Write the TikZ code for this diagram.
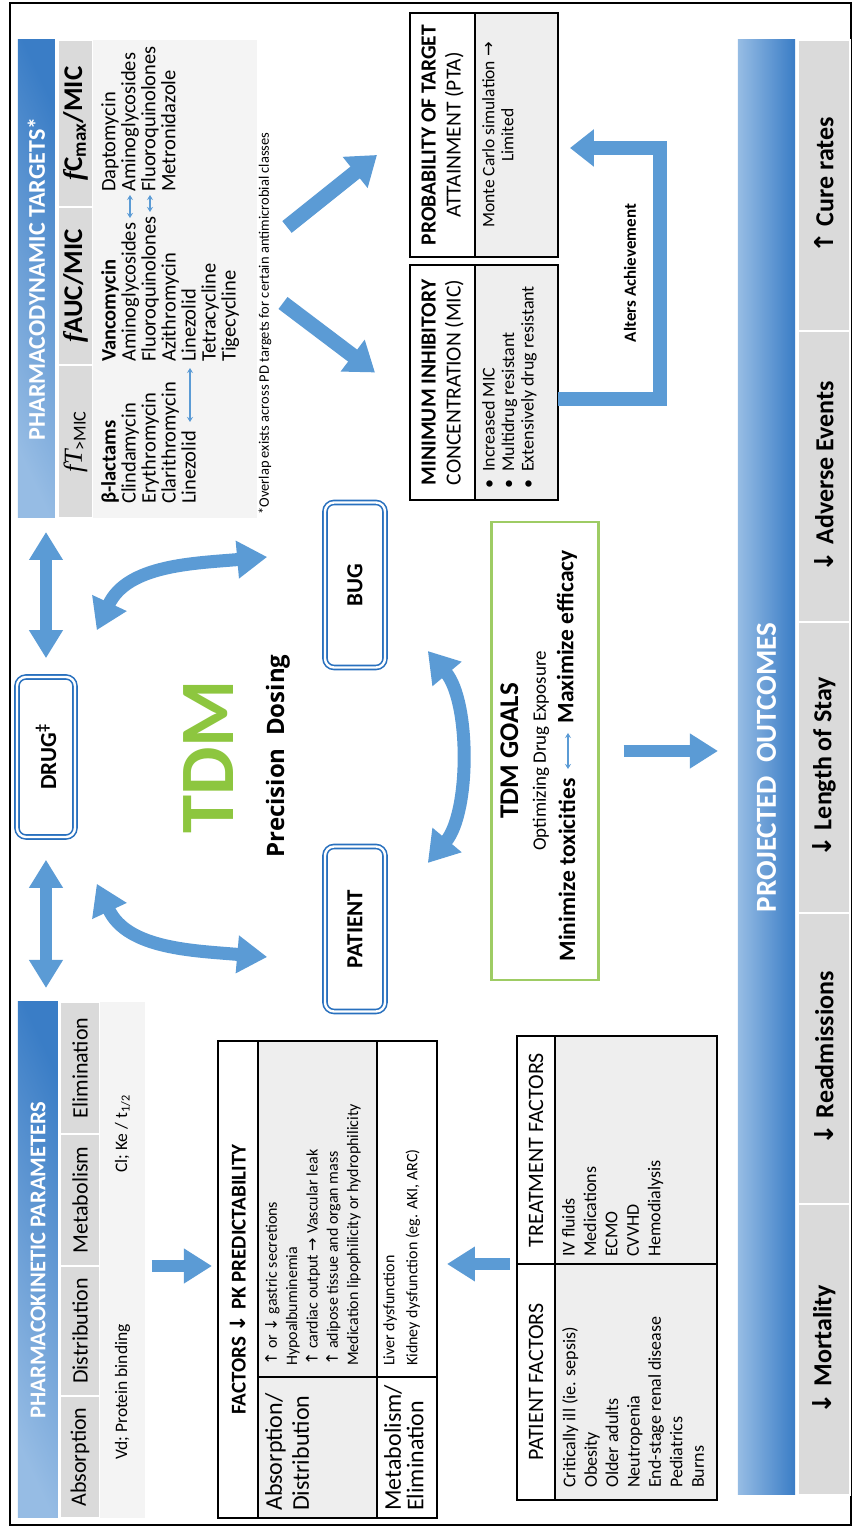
\documentclass[tikz,border=0pt]{standalone}
\usepackage{fontspec}
\setmainfont{Carlito}
\newfontfamily\symfont{DejaVu Sans}
\newfontfamily\seriffont{Liberation Serif}
\newfontfamily\opensans{Open Sans}
\usetikzlibrary{arrows.meta,calc,positioning}

\definecolor{arrowblue}{RGB}{91,155,213}
\definecolor{boxblue}{RGB}{40,112,190}
\definecolor{hdrlight}{RGB}{150,188,228}
\definecolor{hdrdark}{RGB}{58,125,198}
\definecolor{cellgray}{RGB}{218,218,218}
\definecolor{valgray}{RGB}{244,244,244}
\definecolor{rowgray}{RGB}{238,238,238}
\definecolor{tdmgreen}{RGB}{141,198,63}
\definecolor{goalgreen}{RGB}{158,204,100}

\newcommand\fs[2]{\fontsize{#1}{#2}\selectfont}
\newcommand\uarr{{\symfont ↑}}
\newcommand\darr{{\symfont ↓}}
\newcommand\rarr{{\symfont →}}
\newcommand\ff{{\seriffont\itshape f}}

\tikzset{
  hdrbar/.style={top color=hdrlight, bottom color=hdrdark, shading angle=25,
    text=white, font=\bfseries\fs{23}{26}, inner sep=0pt, outer sep=0pt},
  colcell/.style={fill=cellgray, draw=white, line width=1.5pt, inner sep=0pt,
    outer sep=0pt, font=\fs{22}{24}},
  valcell/.style={fill=valgray, inner sep=0pt, outer sep=0pt, font=\fs{17.5}{20}},
  tabcell/.style={draw=black, line width=1.3pt, inner sep=0pt, outer sep=0pt},
  listtext/.style={anchor=north west, align=left, inner sep=0pt, font=\fs{16}{20}},
  dbox/.style={draw=boxblue, double=white, double distance=2.4pt, line width=1.6pt,
    rounded corners=9pt, fill=white, font=\bfseries\fs{23}{26}, inner sep=0pt},
  fatarrow/.style={draw=arrowblue, line width=12pt, -{Triangle[width=33pt,length=28pt]}},
  widearrow/.style={draw=arrowblue, line width=15pt, -{Triangle[width=38pt,length=28pt]}},
  dblarrow/.style={draw=arrowblue, line width=12pt,
    {Triangle[width=32pt,length=28pt]}-{Triangle[width=32pt,length=28pt]}},
  dblcurve/.style={draw=arrowblue, line width=13pt,
    {Triangle[width=36pt,length=30pt]}-{Triangle[width=36pt,length=30pt]}},
  thinarrow/.style={draw=arrowblue, line width=1.2pt,
    {Stealth[length=5pt,width=6pt]}-{Stealth[length=5pt,width=6pt]}}
}

\begin{document}
\begin{tikzpicture}[x=1pt,y=1pt]
\useasboundingbox (-852,0) rectangle (0,1528);
\fill[white] (-852,0) rectangle (0,1528);
\begin{scope}[transform canvas={rotate=90}]
\draw[line width=1.2pt] (3,1) rectangle (1525,842);

% pharmacokinetic parameters
\node[hdrbar, minimum width=516pt, minimum height=40pt, anchor=north west, font=\bfseries\fs{22.5}{26}] (pkhead) at (10,834) {PHARMACOKINETIC PARAMETERS};
\node[colcell, minimum width=122pt, minimum height=40pt, anchor=north west] (pkabs) at (10,792) {Absorption};
\node[colcell, minimum width=130pt, minimum height=40pt, right=0pt of pkabs] (pkdis) {Distribution};
\node[colcell, minimum width=132pt, minimum height=40pt, right=0pt of pkdis] (pkmet) {Metabolism};
\node[colcell, minimum width=132pt, minimum height=40pt, right=0pt of pkmet] (pkeli) {Elimination};
\node[valcell, minimum width=252pt, minimum height=45pt, anchor=north west] (pkvd) at (10,752) {Vd; Protein binding};
\node[valcell, minimum width=264pt, minimum height=45pt, right=0pt of pkvd] (pkcl) {Cl; Ke / t\textsubscript{1/2}};

% factors table
\node[tabcell, minimum width=477pt, minimum height=40pt, anchor=north west, font=\bfseries\fs{21}{24}] (facthead) at (10,634) {FACTORS \darr{} PK PREDICTABILITY};
\node[tabcell, fill=rowgray, minimum width=141pt, minimum height=119pt, anchor=north west] (factlab1) at (10,594) {};
\node[tabcell, fill=rowgray, minimum width=336pt, minimum height=119pt, right=0pt of factlab1] (facttxt1) {};
\node[tabcell, minimum width=141pt, minimum height=60pt, below=0pt of factlab1] (factlab2) {};
\node[tabcell, minimum width=336pt, minimum height=60pt, right=0pt of factlab2] (facttxt2) {};
\node[listtext, font=\fs{24}{27}] (factlab1t) at ([shift={(7,-7)}]factlab1.north west) {Absorption/\\Distribution};
\node[listtext, font=\fs{24}{22.5}] (factlab2t) at ([shift={(7,-7)}]factlab2.north west) {Metabolism/\\Elimination};
\node[listtext, font=\fs{16}{20.3}] (factlist1) at ([shift={(11,-7)}]facttxt1.north west)
  {\uarr{} or \darr{} gastric secretions\\Hypoalbuminemia\\\uarr{} cardiac output \rarr{} Vascular leak\\
   \uarr{} adipose tissue and organ mass\\Medication lipophilicity or hydrophilicity};
\node[listtext, font=\fs{16}{23}] (factlist2) at ([shift={(11,-6)}]facttxt2.north west)
  {Liver dysfunction\\Kidney dysfunction (eg. AKI, ARC)};
\draw[fatarrow] ([yshift=-7pt]pkvd.south east) -- ([yshift=6pt]pkvd.south east |- facthead.north);

% patient and treatment factors
\node[tabcell, minimum width=236pt, minimum height=38pt, anchor=north west, font=\fs{22}{24}] (pathead) at (28,335) {PATIENT FACTORS};
\node[tabcell, minimum width=228pt, minimum height=38pt, right=0pt of pathead, font=\fs{22}{24}] (trthead) {TREATMENT FACTORS};
\node[tabcell, fill=rowgray, minimum width=236pt, minimum height=162pt, below=0pt of pathead] (patbody) {};
\node[tabcell, fill=rowgray, minimum width=228pt, minimum height=162pt, below=0pt of trthead] (trtbody) {};
\node[listtext, font=\fs{18}{21.4}] (patlist) at ([shift={(12,-7)}]patbody.north west)
  {Critically ill (ie. sepsis)\\Obesity\\Older adults\\Neutropenia\\End-stage renal disease\\Pediatrics\\Burns};
\node[listtext, font=\fs{18}{21.4}] (trtlist) at ([shift={(7,-7)}]trtbody.north west)
  {IV fluids\\Medications\\ECMO\\CVVHD\\Hemodialysis};
\draw[fatarrow] ([yshift=7pt]pathead.north east) -- ([yshift=-10pt]pathead.north east |- factlab2.south);

% pharmacodynamic targets
\node[hdrbar, minimum width=478pt, minimum height=37pt, anchor=north west, font=\bfseries\fs{24}{26}] (pdhead) at (1010,834) {PHARMACODYNAMIC TARGETS*};
\node[colcell, minimum width=153pt, minimum height=35pt, anchor=north west, font=\fs{26}{28}] (pdtime) at (1010,794) {{\seriffont\itshape fT}\textsubscript{>MIC}};
\node[colcell, minimum width=158pt, minimum height=35pt, right=0pt of pdtime, font=\bfseries\fs{27}{28}] (pdauc) {\ff AUC/MIC};
\node[colcell, minimum width=167pt, minimum height=35pt, right=0pt of pdauc, font=\bfseries\fs{27}{28}] (pdcmax) {\ff C\textsubscript{max}/MIC};
\node[valcell, minimum width=478pt, minimum height=164pt, anchor=north west] (pdbody) at (1010,759) {};
\node[listtext, font=\fs{20.5}{20}] (pdlist1) at (1024,751) {\textbf{β-lactams}\\Clindamycin\\Erythromycin\\Clarithromycin\\Linezolid};
\node[listtext, font=\fs{20.5}{20}] (pdlist2) at (1166,751) {\textbf{Vancomycin}\\Aminoglycosides\\Fluoroquinolones\\Azithromycin\\Linezolid\\Tetracycline\\Tigecycline};
\node[listtext, font=\fs{20.5}{20}] (pdlist3) at (1336,751) {Daptomycin\\Aminoglycosides\\Fluoroquinolones\\Metronidazole};
\draw[thinarrow] ([shift={(82,-89)}]pdlist1.north west) -- ([shift={(-6,-89)}]pdlist2.north west);
\draw[thinarrow] ([shift={(144,-29)}]pdlist2.north west) -- ([shift={(-3,-29)}]pdlist3.north west);
\draw[thinarrow] ([shift={(150,-49)}]pdlist2.north west) -- ([shift={(-3,-49)}]pdlist3.north west);
\node[anchor=west, inner sep=0pt, font=\fs{14.5}{16}] (pdnote) at (1013,587) {*Overlap exists across PD targets for certain antimicrobial classes};

% MIC and PTA
\node[tabcell, minimum width=235pt, minimum height=65pt, anchor=north west, align=center, font=\fs{21.5}{25}] (mictitle) at (1028,442) {\textbf{MINIMUM INHIBITORY}\\CONCENTRATION (MIC)};
\node[tabcell, fill=rowgray, minimum width=235pt, minimum height=83pt, below=0pt of mictitle] (micbody) {};
\node[tabcell, minimum width=244pt, minimum height=65pt, anchor=north west, align=center, font=\fs{21.5}{25}] (ptatitle) at (1271,442) {\textbf{PROBABILITY OF TARGET}\\ATTAINMENT (PTA)};
\node[tabcell, fill=rowgray, minimum width=244pt, minimum height=83pt, below=0pt of ptatitle] (ptabody) {};
\node[listtext, font=\fs{18}{19.5}] (miclist) at ([shift={(11,-7)}]micbody.north west)
  {•\hspace{8pt}Increased MIC\\•\hspace{8pt}Multidrug resistant\\•\hspace{8pt}Extensively drug resistant};
\node[anchor=north, align=center, inner sep=0pt, font=\fs{17.5}{19}] (ptatext) at ([yshift=-7pt]ptabody.north) {Monte Carlo simulation \rarr\\Limited};
\draw[widearrow] ([shift={(-24,-26)}]pdbody.south) -- ([shift={(10,35)}]mictitle.north);
\draw[widearrow] ([shift={(52,-30)}]pdbody.south) -- ([shift={(-20,33)}]ptatitle.north);
\draw[draw=arrowblue, line width=14pt, -{Triangle[width=36pt,length=24pt]}]
  ([xshift=-17pt]micbody.south) -- ++(0,-102) -| ([shift={(-13,-12)}]ptabody.south);
\node[font=\bfseries\fs{17}{20}] (alters) at (1255,222) {Alters Achievement};

% drug, patient, bug
\node[dbox, minimum width=160pt, minimum height=58pt] (drug) at (771,806) {DRUG\textsuperscript{‡}};
\node[dbox, minimum width=165pt, minimum height=60pt] (patient) at (599,497) {PATIENT};
\node[dbox, minimum width=165pt, minimum height=60pt] (bug) at (943,497) {BUG};
\draw[dblarrow] ([xshift=-22pt]drug.west) -- ([xshift=14pt]drug.west -| pkhead.east);
\draw[dblarrow] ([xshift=18pt]drug.east) -- ([xshift=-14pt]drug.east -| pdhead.west);
\draw[dblcurve] ([shift={(46,-21)}]drug.south east) to[out=-25,in=95] ([shift={(28,57)}]bug.north);
\draw[dblcurve] ([shift={(-46,-21)}]drug.south west) to[out=205,in=85] ([shift={(-28,57)}]patient.north);
\draw[dblcurve] ([shift={(66,-42)}]patient.south) to[out=-40,in=-140,looseness=0.8] ([shift={(-66,-42)}]bug.south);
\node[text=tdmgreen, font=\bfseries\fs{77}{80}] (tdm) at (771,643) {TDM};
\node[font=\opensans\bfseries\fs{24}{28}] (precision) at (772,574) {Precision\ \ Dosing};

% goals
\node[draw=goalgreen, line width=2.5pt, minimum width=458pt, minimum height=107pt] (goals) at (777,307) {};
\node[font=\bfseries\fs{27}{30}] (goaltitle) at ([yshift=-19pt]goals.north) {TDM GOALS};
\node[font=\fs{19}{21}] (goalsub) at ([yshift=4pt]goals.center) {Optimizing Drug Exposure};
\node[anchor=east, font=\bfseries\fs{23.5}{26}] (goalmin) at ([shift={(-24,-22)}]goals.center) {Minimize toxicities};
\node[anchor=west, font=\bfseries\fs{23.5}{26}] (goalmax) at ([shift={(24,-22)}]goals.center) {Maximize efficacy};
\draw[thinarrow] ([xshift=6pt,yshift=-1pt]goalmin.east) -- ([xshift=-6pt,yshift=-1pt]goalmax.west);

% projected outcomes
\node[hdrbar, shading angle=0, minimum width=1455pt, minimum height=57pt, anchor=north west, font=\bfseries\fs{29}{32}] (outhead) at (33,114) {PROJECTED\ \ OUTCOMES};
\draw[fatarrow] ([yshift=-24pt]goals.south) -- ([yshift=20pt]goals.south |- outhead.north);
\node[colcell, minimum width=291pt, minimum height=52pt, anchor=north west, font=\bfseries\fs{26}{30}] (outmort) at (33,54) {\darr{} Mortality};
\node[colcell, minimum width=291pt, minimum height=52pt, right=0pt of outmort, font=\bfseries\fs{26}{30}] (outread) {\darr{} Readmissions};
\node[colcell, minimum width=291pt, minimum height=52pt, right=0pt of outread, font=\bfseries\fs{26}{30}] (outstay) {\darr{} Length of Stay};
\node[colcell, minimum width=291pt, minimum height=52pt, right=0pt of outstay, font=\bfseries\fs{26}{30}] (outadv) {\darr{} Adverse Events};
\node[colcell, minimum width=291pt, minimum height=52pt, right=0pt of outadv, font=\bfseries\fs{26}{30}] (outcure) {\uarr{} Cure rates};
\end{scope}
\end{tikzpicture}
\end{document}
